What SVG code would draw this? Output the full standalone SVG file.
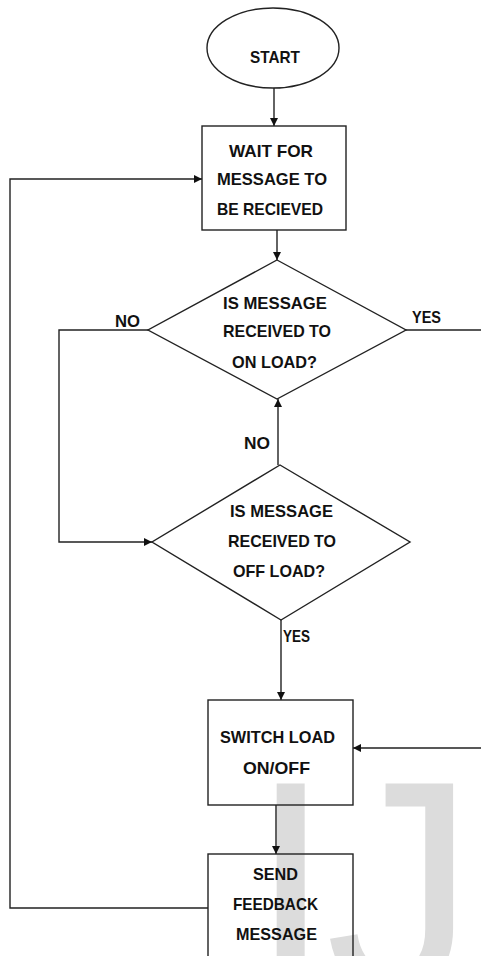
<svg xmlns="http://www.w3.org/2000/svg" width="481" height="956" viewBox="0 0 481 956">
<style>
.shape{fill:#fff;stroke:#222;stroke-width:1.4}
.wm{fill:#dcdcdc;font-family:"Liberation Sans",Arial,sans-serif;font-size:300px}
.t{fill:#111;font-family:"Liberation Sans",Arial,sans-serif;font-weight:bold;font-size:17px;text-anchor:middle}
.lbl{fill:#111;font-family:"Liberation Sans",Arial,sans-serif;font-weight:bold;font-size:17px}
.c{fill:none;stroke:#222;stroke-width:1.4}
</style>
<defs>
<marker id="ah" viewBox="0 0 10 10" refX="10" refY="5" markerWidth="8" markerHeight="8" markerUnits="userSpaceOnUse" orient="auto">
<path d="M0,0 L10,5 L0,10 z" fill="#111"/>
</marker>
</defs>
<rect width="481" height="956" fill="#fff"/>
<text class="wm" x="249" y="990">I<tspan dx="-7">J</tspan></text>
<g id="connectors">
<path class="c" d="M274,88 V126" marker-end="url(#ah)"/>
<path class="c" d="M277,230 V260" marker-end="url(#ah)"/>
<path class="c" d="M148,330 H59 V542 H152" marker-end="url(#ah)"/>
<path class="c" d="M278,465 V399" marker-end="url(#ah)"/>
<path class="c" d="M406,330 H490 V748 H353" marker-end="url(#ah)"/>
<path class="c" d="M281,620 V700" marker-end="url(#ah)"/>
<path class="c" d="M276,805 V854" marker-end="url(#ah)"/>
<path class="c" d="M208,908 H10 V179 H202" marker-end="url(#ah)"/>
<text class="lbl" x="115" y="327" textLength="25" lengthAdjust="spacingAndGlyphs">NO</text>
<text class="lbl" x="412" y="323" textLength="29" lengthAdjust="spacingAndGlyphs">YES</text>
<text class="lbl" x="244" y="449" textLength="26" lengthAdjust="spacingAndGlyphs">NO</text>
<text class="lbl" x="283" y="642" textLength="27" lengthAdjust="spacingAndGlyphs">YES</text>
</g>
<g id="start">
<ellipse class="shape" cx="273" cy="48" rx="66" ry="40"/>
<text class="t" x="275" y="63" textLength="50" lengthAdjust="spacingAndGlyphs">START</text>
</g>
<g id="wait">
<rect class="shape" x="202" y="126" width="144" height="104"/>
<text class="t" x="271" y="157" textLength="84" lengthAdjust="spacingAndGlyphs">WAIT FOR</text>
<text class="t" x="272" y="185" textLength="110" lengthAdjust="spacingAndGlyphs">MESSAGE TO</text>
<text class="t" x="270" y="215" textLength="106" lengthAdjust="spacingAndGlyphs">BE RECIEVED</text>
</g>
<g id="decision-on">
<polygon class="shape" points="277,260 406,330 277,399 148,330"/>
<text class="t" x="275" y="309" textLength="104" lengthAdjust="spacingAndGlyphs">IS MESSAGE</text>
<text class="t" x="277" y="337" textLength="108" lengthAdjust="spacingAndGlyphs">RECEIVED TO</text>
<text class="t" x="274.5" y="368" textLength="85" lengthAdjust="spacingAndGlyphs">ON LOAD?</text>
</g>
<g id="decision-off">
<polygon class="shape" points="280,465 410,542 281,620 152,542"/>
<text class="t" x="281.5" y="517" textLength="103" lengthAdjust="spacingAndGlyphs">IS MESSAGE</text>
<text class="t" x="282" y="547" textLength="108" lengthAdjust="spacingAndGlyphs">RECEIVED TO</text>
<text class="t" x="279" y="577" textLength="92" lengthAdjust="spacingAndGlyphs">OFF LOAD?</text>
</g>
<g id="switch">
<rect class="shape" x="208" y="700" width="145" height="105" style="fill:none"/>
<text class="t" x="277.5" y="743" textLength="115" lengthAdjust="spacingAndGlyphs">SWITCH LOAD</text>
<text class="t" x="276.5" y="774" textLength="67" lengthAdjust="spacingAndGlyphs">ON/OFF</text>
</g>
<g id="send">
<rect class="shape" x="208" y="854" width="145" height="120" style="fill:none"/>
<text class="t" x="275.5" y="880" textLength="45" lengthAdjust="spacingAndGlyphs">SEND</text>
<text class="t" x="275.5" y="910" textLength="85" lengthAdjust="spacingAndGlyphs">FEEDBACK</text>
<text class="t" x="276.5" y="940" textLength="81" lengthAdjust="spacingAndGlyphs">MESSAGE</text>
</g>
</svg>
